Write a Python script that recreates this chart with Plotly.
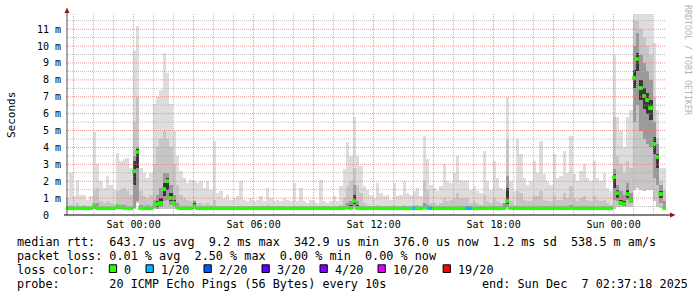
import plotly.graph_objects as go
import pandas as pd

# ---------------- data (milliseconds), 10-minute bins ----------------
start_time = "2025-12-05 20:37:18"
end_time = "2025-12-07 02:37:18"
step_minutes = 10

rtt_max = [
    1.0, 2.5, 1.1, 2.1, 1.2, 1.2, 0.9, 1.1, 4.9, 3.0,
    2.0, 1.6, 2.3, 1.8, 1.5, 3.7, 3.2, 3.3, 3.4, 2.8,
    9.7, 11.2, 2.8, 2.5, 2.2, 2.5, 6.6, 7.0, 7.4, 9.6,
    8.4, 6.6, 5.0, 3.5, 2.6, 2.2, 1.9, 2.1, 2.0, 1.9,
    2.0, 1.6, 2.0, 1.5, 4.4, 1.3, 1.4, 1.0, 1.2, 0.9,
    1.0, 1.1, 2.0, 0.9, 0.8, 1.0, 0.8, 0.9, 1.1, 0.8,
    1.6, 1.0, 0.8, 0.9, 0.8, 1.0, 0.9, 0.85, 1.9, 0.8,
    1.6, 0.8, 0.7, 0.9, 0.8, 0.7, 2.1, 0.8, 0.7, 0.8,
    1.1, 0.8, 1.7, 2.7, 4.3, 3.5, 5.8, 3.5, 2.9, 1.7,
    1.5, 1.2, 1.0, 1.9, 1.3, 1.1, 1.2, 0.9, 1.9, 1.1,
    1.2, 2.0, 1.3, 1.2, 1.4, 1.6, 1.1, 4.7, 3.3, 1.8,
    1.6, 1.4, 1.7, 3.0, 2.0, 1.9, 2.5, 3.5, 2.1, 2.0,
    2.1, 1.5, 1.7, 1.4, 1.3, 3.8, 2.0, 1.5, 3.2, 2.2,
    1.6, 1.5, 7.0, 2.0, 1.4, 4.5, 3.6, 2.2, 1.8, 2.0,
    3.2, 2.5, 4.4, 2.4, 2.0, 1.8, 3.6, 2.2, 2.3, 3.8,
    2.5, 4.7, 2.4, 2.0, 2.6, 3.0, 2.2, 2.0, 3.2, 2.2,
    2.0, 2.5, 1.6, 1.4, 9.5, 5.8, 5.0, 4.0, 5.8, 6.2,
    12.0, 12.0, 12.0, 12.0, 12.0, 12.0, 10.2, 6.2, 2.8, 2.8,
]

rtt_p90 = [
    0.5, 0.6, 0.5, 0.7, 0.5, 0.6, 0.5, 0.5, 1.5, 1.6,
    0.8, 0.7, 0.8, 0.7, 0.6, 1.4, 1.5, 1.6, 1.4, 1.2,
    5.5, 7.0, 1.4, 1.1, 1.0, 1.2, 3.0, 4.0, 4.5, 5.0,
    4.5, 4.0, 3.0, 1.8, 1.2, 1.0, 0.9, 0.8, 0.9, 0.7,
    0.7, 0.6, 0.7, 0.6, 0.9, 0.5, 0.5, 0.5, 0.5, 0.5,
    0.5, 0.5, 0.55, 0.5, 0.5, 0.5, 0.5, 0.5, 0.5, 0.5,
    0.6, 0.5, 0.5, 0.5, 0.5, 0.5, 0.5, 0.5, 0.55, 0.5,
    0.55, 0.5, 0.5, 0.5, 0.5, 0.5, 0.55, 0.5, 0.5, 0.5,
    0.5, 0.5, 0.6, 1.0, 1.7, 2.0, 2.8, 1.8, 1.3, 0.7,
    0.6, 0.55, 0.5, 0.6, 0.55, 0.5, 0.55, 0.5, 0.6, 0.55,
    0.55, 0.6, 0.55, 0.55, 0.6, 0.6, 0.55, 2.0, 1.5, 0.7,
    0.7, 0.6, 0.7, 1.0, 0.8, 0.9, 1.0, 1.3, 1.0, 1.0,
    1.0, 0.7, 0.8, 0.7, 0.6, 1.2, 0.8, 0.7, 1.0, 0.8,
    0.7, 0.7, 4.5, 0.8, 0.6, 1.4, 1.3, 0.9, 0.8, 0.8,
    1.1, 1.1, 1.4, 0.9, 0.8, 0.8, 1.2, 0.9, 0.9, 1.3,
    1.0, 1.7, 1.0, 0.8, 1.0, 1.1, 0.9, 0.8, 1.1, 0.9,
    0.8, 0.9, 0.7, 0.6, 5.8, 3.5, 3.0, 2.5, 3.2, 2.8,
    11.5, 11.5, 11.0, 10.5, 10.0, 9.5, 7.0, 4.5, 2.0, 1.5,
]

rtt_p70 = [
    0.45, 0.45, 0.45, 0.45, 0.45, 0.45, 0.45, 0.45, 0.60, 0.70,
    0.45, 0.45, 0.45, 0.45, 0.45, 0.60, 0.60, 0.60, 0.55, 0.45,
    3.50, 4.00, 0.60, 0.45, 0.45, 0.45, 0.90, 1.20, 1.60, 2.50,
    2.50, 1.80, 1.20, 0.70, 0.45, 0.45, 0.45, 0.45, 0.80, 0.45,
    0.45, 0.45, 0.45, 0.45, 0.50, 0.45, 0.45, 0.45, 0.45, 0.45,
    0.45, 0.45, 0.45, 0.45, 0.45, 0.45, 0.45, 0.45, 0.45, 0.45,
    0.45, 0.45, 0.45, 0.45, 0.45, 0.45, 0.45, 0.45, 0.45, 0.45,
    0.45, 0.45, 0.45, 0.45, 0.45, 0.45, 0.45, 0.45, 0.45, 0.45,
    0.45, 0.45, 0.45, 0.50, 0.70, 0.80, 1.80, 0.80, 0.50, 0.45,
    0.45, 0.45, 0.45, 0.45, 0.45, 0.45, 0.45, 0.45, 0.45, 0.45,
    0.45, 0.45, 0.45, 0.45, 0.45, 0.45, 0.45, 0.70, 0.60, 0.45,
    0.45, 0.45, 0.45, 0.50, 0.45, 0.45, 0.45, 0.50, 0.45, 0.45,
    0.45, 0.45, 0.45, 0.45, 0.45, 0.45, 0.45, 0.45, 0.45, 0.45,
    0.45, 0.70, 2.30, 0.50, 0.45, 0.45, 0.45, 0.45, 0.45, 0.45,
    0.45, 0.45, 0.45, 0.45, 0.45, 0.45, 0.45, 0.45, 0.45, 0.45,
    0.45, 0.60, 0.45, 0.45, 0.45, 0.45, 0.45, 0.45, 0.45, 0.45,
    0.45, 0.45, 0.45, 0.45, 2.70, 1.80, 1.40, 1.20, 1.90, 1.30,
    10.00, 10.80, 9.50, 9.00, 8.50, 8.00, 5.50, 4.20, 1.80, 0.80,
]

rtt_p60 = [
    0.40, 0.40, 0.40, 0.40, 0.40, 0.40, 0.40, 0.40, 0.58, 0.50,
    0.40, 0.40, 0.40, 0.40, 0.40, 0.55, 0.50, 0.40, 0.40, 0.40,
    3.20, 3.90, 0.50, 0.40, 0.40, 0.40, 0.60, 0.80, 1.00, 1.90,
    2.20, 1.30, 0.90, 0.55, 0.40, 0.40, 0.40, 0.40, 0.70, 0.40,
    0.40, 0.40, 0.40, 0.40, 0.40, 0.40, 0.40, 0.40, 0.40, 0.40,
    0.40, 0.40, 0.40, 0.40, 0.40, 0.40, 0.40, 0.40, 0.40, 0.40,
    0.40, 0.40, 0.40, 0.40, 0.40, 0.40, 0.40, 0.40, 0.40, 0.40,
    0.40, 0.40, 0.40, 0.40, 0.40, 0.40, 0.40, 0.40, 0.40, 0.40,
    0.40, 0.40, 0.40, 0.40, 0.50, 0.60, 1.20, 0.60, 0.40, 0.40,
    0.40, 0.40, 0.40, 0.40, 0.40, 0.40, 0.40, 0.40, 0.40, 0.40,
    0.40, 0.40, 0.40, 0.40, 0.40, 0.40, 0.40, 0.55, 0.50, 0.40,
    0.40, 0.40, 0.40, 0.40, 0.40, 0.40, 0.40, 0.40, 0.40, 0.40,
    0.40, 0.40, 0.40, 0.40, 0.40, 0.40, 0.40, 0.40, 0.40, 0.40,
    0.40, 0.55, 1.60, 0.45, 0.40, 0.40, 0.40, 0.40, 0.40, 0.40,
    0.40, 0.40, 0.40, 0.40, 0.40, 0.40, 0.40, 0.40, 0.40, 0.40,
    0.40, 0.50, 0.40, 0.40, 0.40, 0.40, 0.40, 0.40, 0.40, 0.40,
    0.40, 0.40, 0.40, 0.40, 2.40, 1.50, 0.90, 0.80, 1.50, 1.00,
    8.60, 9.60, 8.00, 7.50, 7.20, 6.80, 4.60, 3.60, 1.40, 0.50,
]

rtt_p40 = [
    0.36, 0.36, 0.36, 0.36, 0.36, 0.36, 0.36, 0.36, 0.45, 0.38,
    0.36, 0.36, 0.36, 0.36, 0.36, 0.42, 0.40, 0.36, 0.36, 0.36,
    1.80, 2.80, 0.38, 0.36, 0.36, 0.36, 0.45, 0.50, 0.60, 1.10,
    1.50, 0.80, 0.60, 0.40, 0.36, 0.36, 0.36, 0.36, 0.45, 0.36,
    0.36, 0.36, 0.36, 0.36, 0.36, 0.36, 0.36, 0.36, 0.36, 0.36,
    0.36, 0.36, 0.36, 0.36, 0.36, 0.36, 0.36, 0.36, 0.36, 0.36,
    0.36, 0.36, 0.36, 0.36, 0.36, 0.36, 0.36, 0.36, 0.36, 0.36,
    0.36, 0.36, 0.36, 0.36, 0.36, 0.36, 0.36, 0.36, 0.36, 0.36,
    0.36, 0.36, 0.36, 0.36, 0.38, 0.40, 0.65, 0.40, 0.36, 0.36,
    0.36, 0.36, 0.36, 0.36, 0.36, 0.36, 0.36, 0.36, 0.36, 0.36,
    0.36, 0.36, 0.36, 0.36, 0.36, 0.36, 0.36, 0.40, 0.38, 0.36,
    0.36, 0.36, 0.36, 0.36, 0.36, 0.36, 0.36, 0.36, 0.36, 0.36,
    0.36, 0.36, 0.36, 0.36, 0.36, 0.36, 0.36, 0.36, 0.36, 0.36,
    0.36, 0.38, 0.65, 0.37, 0.36, 0.36, 0.36, 0.36, 0.36, 0.36,
    0.36, 0.36, 0.36, 0.36, 0.36, 0.36, 0.36, 0.36, 0.36, 0.36,
    0.36, 0.38, 0.36, 0.36, 0.36, 0.36, 0.36, 0.36, 0.36, 0.36,
    0.36, 0.36, 0.36, 0.36, 1.60, 1.00, 0.60, 0.55, 1.00, 0.75,
    7.50, 8.50, 6.80, 6.30, 6.00, 5.60, 3.60, 2.80, 1.00, 0.37,
]

rtt_p30 = [
    0.35, 0.35, 0.35, 0.35, 0.35, 0.35, 0.35, 0.35, 0.35, 0.35,
    0.35, 0.35, 0.35, 0.35, 0.35, 0.35, 0.35, 0.35, 0.35, 0.35,
    0.40, 0.80, 0.35, 0.35, 0.35, 0.35, 0.40, 0.35, 0.50, 0.80,
    0.90, 0.60, 0.50, 0.35, 0.35, 0.35, 0.35, 0.35, 0.35, 0.35,
    0.35, 0.35, 0.35, 0.35, 0.35, 0.35, 0.35, 0.35, 0.35, 0.35,
    0.35, 0.35, 0.35, 0.35, 0.35, 0.35, 0.35, 0.35, 0.35, 0.35,
    0.35, 0.35, 0.35, 0.35, 0.35, 0.35, 0.35, 0.35, 0.35, 0.35,
    0.35, 0.35, 0.35, 0.35, 0.35, 0.35, 0.35, 0.35, 0.35, 0.35,
    0.35, 0.35, 0.35, 0.35, 0.35, 0.35, 0.50, 0.35, 0.35, 0.35,
    0.35, 0.35, 0.35, 0.35, 0.35, 0.35, 0.35, 0.35, 0.35, 0.35,
    0.35, 0.35, 0.35, 0.35, 0.35, 0.35, 0.35, 0.35, 0.35, 0.35,
    0.35, 0.35, 0.35, 0.35, 0.35, 0.35, 0.35, 0.35, 0.35, 0.35,
    0.35, 0.35, 0.35, 0.35, 0.35, 0.35, 0.35, 0.35, 0.35, 0.35,
    0.35, 0.35, 0.50, 0.35, 0.35, 0.35, 0.35, 0.35, 0.35, 0.35,
    0.35, 0.35, 0.35, 0.35, 0.35, 0.35, 0.35, 0.35, 0.35, 0.35,
    0.35, 0.35, 0.35, 0.35, 0.35, 0.35, 0.35, 0.35, 0.35, 0.35,
    0.35, 0.35, 0.35, 0.35, 0.90, 0.80, 0.60, 0.55, 0.90, 0.70,
    5.50, 6.50, 5.00, 4.50, 4.20, 4.00, 2.20, 1.80, 0.70, 0.35,
]

rtt_min = [
    0.34, 0.34, 0.34, 0.34, 0.34, 0.34, 0.34, 0.34, 0.34, 0.34,
    0.34, 0.34, 0.34, 0.34, 0.34, 0.34, 0.34, 0.34, 0.34, 0.34,
    0.34, 0.70, 0.34, 0.34, 0.34, 0.34, 0.34, 0.34, 0.34, 0.34,
    0.34, 0.34, 0.34, 0.34, 0.34, 0.34, 0.34, 0.34, 0.34, 0.34,
    0.34, 0.34, 0.34, 0.34, 0.34, 0.34, 0.34, 0.34, 0.34, 0.34,
    0.34, 0.34, 0.34, 0.34, 0.34, 0.34, 0.34, 0.34, 0.34, 0.34,
    0.34, 0.34, 0.34, 0.34, 0.34, 0.34, 0.34, 0.34, 0.34, 0.34,
    0.34, 0.34, 0.34, 0.34, 0.34, 0.34, 0.34, 0.34, 0.34, 0.34,
    0.34, 0.34, 0.34, 0.34, 0.34, 0.34, 0.34, 0.34, 0.34, 0.34,
    0.34, 0.34, 0.34, 0.34, 0.34, 0.34, 0.34, 0.34, 0.34, 0.34,
    0.34, 0.34, 0.34, 0.34, 0.34, 0.34, 0.34, 0.34, 0.34, 0.34,
    0.34, 0.34, 0.34, 0.34, 0.34, 0.34, 0.34, 0.34, 0.34, 0.34,
    0.34, 0.34, 0.34, 0.34, 0.34, 0.34, 0.34, 0.34, 0.34, 0.34,
    0.34, 0.34, 0.34, 0.34, 0.34, 0.34, 0.34, 0.34, 0.34, 0.34,
    0.34, 0.34, 0.34, 0.34, 0.34, 0.34, 0.34, 0.34, 0.34, 0.34,
    0.34, 0.34, 0.34, 0.34, 0.34, 0.34, 0.34, 0.34, 0.34, 0.34,
    0.34, 0.34, 0.34, 0.34, 0.34, 0.50, 0.50, 0.45, 0.50, 0.50,
    1.50, 1.60, 1.50, 1.40, 1.50, 1.50, 0.80, 0.50, 0.40, 0.34,
]

rtt_median = [
    0.37, 0.37, 0.37, 0.37, 0.37, 0.37, 0.37, 0.37, 0.55, 0.40,
    0.37, 0.37, 0.37, 0.37, 0.37, 0.50, 0.45, 0.37, 0.37, 0.37,
    2.60, 3.70, 0.40, 0.37, 0.45, 0.37, 0.50, 0.60, 0.70, 1.50,
    2.00, 1.00, 0.70, 0.45, 0.37, 0.37, 0.37, 0.37, 0.50, 0.37,
    0.37, 0.37, 0.37, 0.37, 0.37, 0.37, 0.37, 0.37, 0.37, 0.37,
    0.37, 0.37, 0.37, 0.37, 0.37, 0.37, 0.37, 0.37, 0.37, 0.37,
    0.37, 0.37, 0.37, 0.37, 0.37, 0.37, 0.37, 0.37, 0.37, 0.37,
    0.37, 0.37, 0.37, 0.37, 0.37, 0.37, 0.37, 0.37, 0.37, 0.37,
    0.37, 0.37, 0.37, 0.37, 0.42, 0.37, 0.80, 0.40, 0.37, 0.37,
    0.37, 0.37, 0.37, 0.37, 0.37, 0.37, 0.37, 0.37, 0.37, 0.37,
    0.37, 0.37, 0.37, 0.37, 0.37, 0.37, 0.37, 0.45, 0.37, 0.37,
    0.37, 0.37, 0.37, 0.37, 0.37, 0.37, 0.37, 0.37, 0.37, 0.37,
    0.37, 0.37, 0.37, 0.37, 0.37, 0.37, 0.37, 0.37, 0.37, 0.37,
    0.37, 0.37, 0.80, 0.40, 0.37, 0.37, 0.37, 0.37, 0.37, 0.37,
    0.37, 0.37, 0.37, 0.37, 0.37, 0.37, 0.37, 0.37, 0.37, 0.37,
    0.37, 0.40, 0.37, 0.37, 0.37, 0.37, 0.37, 0.37, 0.37, 0.37,
    0.37, 0.37, 0.37, 0.37, 2.20, 1.30, 0.70, 0.60, 1.20, 0.85,
    8.10, 9.20, 7.50, 7.00, 6.80, 6.30, 4.20, 3.40, 1.20, 0.40,
]

# packet loss per bin, in pings out of 20
loss = [
    0, 0, 0, 0, 0, 0, 0, 0, 0, 0,  0, 0, 0, 0, 0, 0, 0, 0, 0, 0,
    0, 0, 0, 0, 0, 0, 0, 0, 0, 0,  0, 0, 0, 0, 0, 0, 0, 0, 0, 0,
    0, 0, 0, 0, 0, 0, 0, 0, 0, 0,  0, 0, 0, 0, 0, 0, 0, 0, 0, 0,
    0, 0, 0, 0, 0, 0, 0, 0, 0, 0,  0, 0, 0, 0, 0, 0, 0, 0, 0, 0,
    0, 0, 0, 0, 0, 0, 0, 0, 0, 0,  0, 0, 0, 0, 0, 0, 0, 0, 0, 0,
    0, 0, 0, 0, 1, 0, 0, 0, 0, 1,  0, 0, 0, 0, 0, 0, 0, 0, 0, 0,
    1, 1, 0, 0, 0, 0, 0, 0, 0, 0,  0, 0, 0, 0, 0, 0, 0, 0, 0, 0,
    0, 0, 0, 0, 0, 0, 0, 0, 0, 0,  0, 0, 0, 0, 0, 0, 0, 0, 0, 0,
    0, 0, 0, 0, 0, 0, 0, 0, 0, 0,  0, 0, 0, 0, 0, 0, 0, 0, 0, 0,
]

loss_levels = [0, 1, 2, 3, 4, 10, 19]
loss_labels = ["0", "1/20", "2/20", "3/20", "4/20", "10/20", "19/20"]
loss_colors = ["#26ff00", "#00b8ff", "#0059ff", "#5e00ff", "#7e00ff", "#dd00ff", "#ff0000"]

x_tick_times = ["2025-12-06 00:00", "2025-12-06 06:00", "2025-12-06 12:00",
                "2025-12-06 18:00", "2025-12-07 00:00"]
x_tick_labels = ["Sat 00:00", "Sat 06:00", "Sat 12:00", "Sat 18:00", "Sun 00:00"]
y_tick_values = list(range(0, 12))
y_tick_labels = ["0\u00a0\u00a0"] + [f"{v} m" for v in range(1, 12)]

legend_lines = [
    "median rtt:  643.7 us avg  9.2 ms max  342.9 us min  376.0 us now  1.2 ms sd  538.5 m am/s",
    "packet loss: 0.01 % avg  2.50 % max  0.00 % min  0.00 % now",
]
probe_text = "probe:       20 ICMP Echo Pings (56 Bytes) every 10s"
end_text = "end: Sun Dec  7 02:37:18 2025"

# ---------------- geometry (pixels) ----------------
W, H = 697, 297
L, R, T, B = 66, 31, 14, 82
PW, PH = W - L - R, H - T - B
Y_MAX = 11.9
MONO = "DejaVu Sans Mono"


def px(xp):
    return (xp - L) / PW


def py(yp):
    return (H - B - yp) / PH


t0 = pd.Timestamp(start_time)
step = pd.Timedelta(minutes=step_minutes)
centers = [t0 + step * (i + 0.5) for i in range(len(rtt_max))]
step_ms = step_minutes * 60 * 1000

fig = go.Figure()


def band(lo, hi, color):
    fig.add_trace(go.Bar(
        x=centers, base=lo, y=[max(h - l, 0) for l, h in zip(lo, hi)],
        width=step_ms, marker=dict(color=color, line=dict(width=0)),
        hoverinfo="skip", showlegend=False))


band(rtt_min, rtt_max, "#dddddd")
band(rtt_min, rtt_p90, "#c6c6c6")
band(rtt_p30, rtt_p70, "#9a9a9a")
band(rtt_p40, rtt_p60, "#383838")

half = 1.5 / PH * Y_MAX
color_of = dict(zip(loss_levels, loss_colors))
median_colors = [color_of[l] for l in loss]
fig.add_trace(go.Bar(
    x=centers, base=[m - half for m in rtt_median], y=[2 * half] * len(rtt_median),
    width=step_ms, marker=dict(color=median_colors, line=dict(width=0.8, color=median_colors)),
    hoverinfo="skip", showlegend=False))

GRID_MAJOR = "rgba(230,120,120,0.75)"
GRID_MINOR = "rgba(170,170,170,0.75)"
shapes = []
# horizontal grid
for k in range(1, 24):
    v = k * 0.5
    major = (k % 2 == 0)
    shapes.append(dict(type="line", xref="paper", yref="y", x0=0, x1=1, y0=v, y1=v,
                       layer="above",
                       line=dict(color=GRID_MAJOR if major else GRID_MINOR,
                                 width=1, dash="1px,1px")))
# vertical grid every hour, major every 3 hours
tg = pd.Timestamp("2025-12-05 21:00")
while tg < pd.Timestamp(end_time):
    major = (tg.hour % 3 == 0)
    shapes.append(dict(type="line", xref="x", yref="paper", x0=tg, x1=tg, y0=0, y1=1,
                       layer="above",
                       line=dict(color=GRID_MAJOR if major else GRID_MINOR,
                                 width=1, dash="1px,1px")))
    tg += pd.Timedelta(hours=1)

# axes
shapes.append(dict(type="line", xref="paper", yref="paper", x0=px(67), x1=px(67),
                   y0=py(215), y1=py(10), line=dict(color="#555555", width=1), layer="above"))
shapes.append(dict(type="line", xref="paper", yref="paper", x0=px(64), x1=px(671),
                   y0=py(215), y1=py(215), line=dict(color="#000000", width=1), layer="above"))
# arrows
shapes.append(dict(type="path", xref="paper", yref="paper",
                   path=f"M {px(64.5)} {py(13)} L {px(69.5)} {py(13)} L {px(67)} {py(7.5)} Z",
                   fillcolor="#8b1a1a", line=dict(width=0), layer="above"))
shapes.append(dict(type="path", xref="paper", yref="paper",
                   path=f"M {px(670)} {py(212.5)} L {px(670)} {py(217.5)} L {px(675.5)} {py(215)} Z",
                   fillcolor="#8b1a1a", line=dict(width=0), layer="above"))

annotations = []
text_y = [241.5, 255.5, 269.5, 284]
for i, line in enumerate(legend_lines):
    annotations.append(dict(xref="paper", yref="paper", x=px(15), y=py(text_y[i]),
                            xanchor="left", yanchor="middle", showarrow=False,
                            text=line.replace(" ", "\u00a0"),
                            font=dict(family=MONO, size=11.8, color="#000")))
annotations.append(dict(xref="paper", yref="paper", x=px(15), y=py(text_y[2]),
                        xanchor="left", yanchor="middle", showarrow=False,
                        text="loss\u00a0color:", font=dict(family=MONO, size=11.8, color="#000")))
bx = 109.3
for lab, col in zip(loss_labels, loss_colors):
    shapes.append(dict(type="rect", xref="paper", yref="paper",
                       x0=px(bx), x1=px(bx + 7.3), y0=py(272.5), y1=py(264.8),
                       fillcolor=col, line=dict(color="#000", width=1), layer="above"))
    annotations.append(dict(xref="paper", yref="paper", x=px(bx + 12.5), y=py(text_y[2]),
                            xanchor="left", yanchor="middle", showarrow=False, text=lab,
                            font=dict(family=MONO, size=11.8, color="#000")))
    bx += 14 + 7.1 * len(lab) + 15.6
annotations.append(dict(xref="paper", yref="paper", x=px(15), y=py(text_y[3]),
                        xanchor="left", yanchor="middle", showarrow=False,
                        text=probe_text.replace(" ", "\u00a0"),
                        font=dict(family=MONO, size=11.8, color="#000")))
annotations.append(dict(xref="paper", yref="paper", x=px(480), y=py(text_y[3]),
                        xanchor="left", yanchor="middle", showarrow=False,
                        text=end_text.replace(" ", "\u00a0"),
                        font=dict(family=MONO, size=11.8, color="#000")))
annotations.append(dict(xref="paper", yref="paper", x=px(11), y=py(115),
                        xanchor="center", yanchor="middle", showarrow=False,
                        text="Seconds", textangle=-90,
                        font=dict(family=MONO, size=11, color="#000")))
annotations.append(dict(xref="paper", yref="paper", x=px(688), y=py(60),
                        xanchor="center", yanchor="middle", showarrow=False,
                        text="RRDTOOL\u00a0/\u00a0TOBI\u00a0OETIKER", textangle=90,
                        font=dict(family=MONO, size=8.3, color="#b4b4b4")))

fig.update_layout(
    width=W, height=H, margin=dict(l=L, r=R, t=T, b=B, pad=0),
    paper_bgcolor="white", plot_bgcolor="white",
    barmode="overlay", bargap=0, showlegend=False,
    shapes=shapes, annotations=annotations,
    xaxis=dict(type="date", range=[start_time, end_time], showgrid=False, zeroline=False,
               showline=False, tickvals=x_tick_times, ticktext=x_tick_labels, ticks="",
               ticklabelstandoff=2,
               tickfont=dict(family=MONO, size=10, color="#000"), fixedrange=True),
    yaxis=dict(range=[0, Y_MAX], showgrid=False, zeroline=False, showline=False,
               tickvals=y_tick_values, ticktext=y_tick_labels, ticks="",
               ticklabelstandoff=4,
               tickfont=dict(family=MONO, size=10, color="#000"), fixedrange=True),
)

fig.write_html("out.html", config={"displayModeBar": False})
